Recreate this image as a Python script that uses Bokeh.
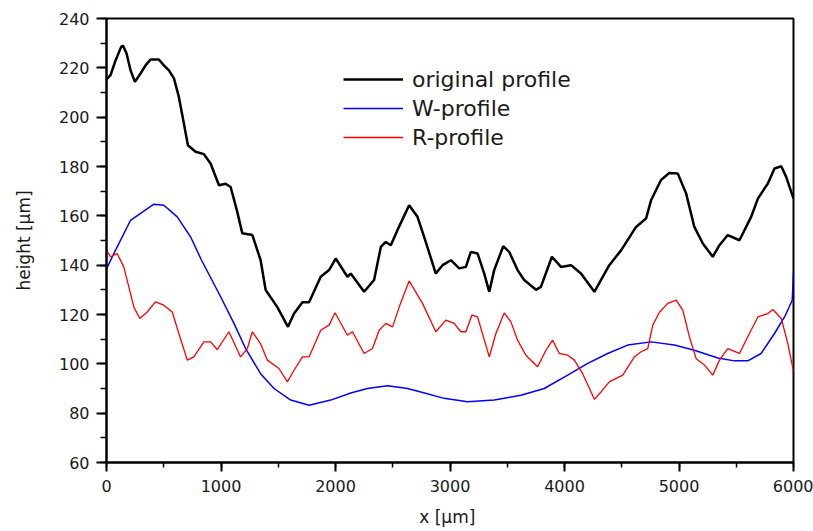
from bokeh.plotting import figure
from bokeh.models import Range1d, SingleIntervalTicker, Legend, LegendItem
from bokeh.embed import file_html
from bokeh.resources import INLINE

# ---------------- data ----------------
orig_x = [0, 35, 79, 128, 145, 175, 210, 248, 297, 341, 385, 457, 501, 545, 589, 632, 676, 711,
          778, 851, 909, 982, 1040, 1084, 1140, 1186, 1274, 1346, 1390, 1492, 1585, 1638, 1711,
          1769, 1871, 1944, 2002, 2104, 2133, 2250, 2337, 2396, 2439, 2483, 2541, 2643, 2716,
          2774, 2876, 2935, 3008, 3080, 3139, 3182, 3241, 3299, 3343, 3386, 3465, 3517, 3590,
          3648, 3751, 3794, 3890, 3969, 4057, 4144, 4261, 4391, 4494, 4625, 4712, 4756, 4843,
          4916, 4989, 5062, 5134, 5208, 5295, 5353, 5426, 5528, 5630, 5689, 5776, 5834, 5893,
          5936, 6000]
orig_y = [215.3, 217, 223, 228.5, 229, 225.8, 219, 214.3, 217.7, 221, 223.4, 223.4, 221, 219,
          215.7, 208.2, 197.4, 188.6, 186, 185, 181.2, 172.4, 173, 171.7, 162, 152.9, 152.2, 142,
          129.9, 123, 115, 120.4, 125, 125, 135.3, 138, 142.7, 135.3, 136.6, 129.2, 134, 147.4,
          149.4, 148.1, 154.2, 164.3, 159.6, 151.5, 136.6, 140, 142, 138.7, 139.3, 145.4, 144.7,
          136.6, 129.2, 138, 147.7, 145.4, 138, 134, 130, 131.2, 143.4, 139.3, 140, 136.6, 129.2,
          140, 146, 155.5, 158.9, 166.3, 174.5, 177.4, 177.2, 169.1, 155.5, 148.8, 143.4, 148.1,
          152.2, 150.1, 159.6, 167, 173.1, 179.2, 180.1, 175.8, 167]

w_x = [0, 64, 210, 414, 501, 618, 734, 830, 997, 1113, 1215, 1346, 1463, 1609, 1769, 1958, 2133,
       2279, 2454, 2629, 2745, 2949, 3153, 3386, 3620, 3823, 4028, 4203, 4377, 4552, 4756, 4960,
       5134, 5339, 5484, 5601, 5717, 5834, 5922, 5989, 6000]
w_y = [138.5, 144.7, 158.2, 164.7, 164.3, 159.6, 151.5, 142, 127.2, 116.4, 106.2, 96, 90, 85.3,
       83.2, 85.3, 88.2, 90, 91.1, 90, 88.6, 86, 84.6, 85.3, 87.3, 90, 95.4, 100.2, 104.2, 107.6,
       108.9, 107.6, 105.5, 102.4, 101.2, 101.2, 104.2, 112.3, 119, 125.8, 137]

r_x = [0, 35, 93, 151, 195, 239, 291, 356, 428, 501, 574, 632, 705, 763, 851, 909, 967, 1069,
       1171, 1230, 1274, 1346, 1405, 1506, 1580, 1638, 1711, 1769, 1871, 1944, 1996, 2104, 2148,
       2250, 2323, 2381, 2439, 2498, 2556, 2643, 2760, 2876, 2964, 3036, 3095, 3139, 3191, 3241,
       3343, 3401, 3474, 3532, 3590, 3663, 3765, 3838, 3896, 3954, 4028, 4086, 4159, 4261, 4319,
       4391, 4509, 4610, 4669, 4727, 4771, 4829, 4902, 4975, 5033, 5091, 5150, 5223, 5295, 5353,
       5426, 5528, 5615, 5689, 5776, 5820, 5893, 5951, 6000]
r_y = [146, 143.4, 144.7, 139.3, 131.2, 123, 118.4, 121, 125.1, 123.8, 121, 112.3, 101.5, 102.8,
       108.9, 108.9, 105.8, 113, 102.8, 106.2, 113, 108.1, 101.5, 98.1, 92.7, 97.4, 102.8, 102.8,
       113.6, 115.7, 120.7, 111.6, 113, 104.2, 106.2, 113.6, 116.4, 115, 123, 133.6, 124.5, 113,
       117.7, 116.4, 113, 113, 119.7, 119, 102.8, 112.3, 120.7, 117, 109.6, 103.5, 98.8, 105.5,
       109.6, 104.2, 103.5, 101.5, 96, 85.6, 88.6, 92.7, 95.4, 102.8, 104.9, 106.2, 115.7, 120.9,
       124.5, 125.8, 121.8, 110.9, 102.1, 99.5, 95.4, 101.5, 106.2, 104.2, 112.3, 119, 120.4, 122,
       118.4, 108.1, 97]

series_names = ["original profile", "W-profile", "R-profile"]
x_label = "x  [µm]"
y_label = "height [µm]"

FONT = "DejaVu Sans"

p = figure(width=813, height=531, output_backend="svg", toolbar_location=None,
           x_range=Range1d(0, 6000), y_range=Range1d(60, 240),
           min_border_left=106, min_border_right=20, min_border_top=18, min_border_bottom=69)
p.background_fill_color = "white"
p.border_fill_color = "white"
p.grid.visible = False
p.outline_line_color = "black"
p.outline_line_width = 2

r_orig = p.line(orig_x, orig_y, line_color="black", line_width=2.5)
r_w = p.line(w_x, w_y, line_color="#0000ff", line_width=1.5)
r_r = p.line(r_x, r_y, line_color="#ff0000", line_width=1.3)

p.xaxis.ticker = SingleIntervalTicker(interval=1000, num_minor_ticks=2)
p.yaxis.ticker = SingleIntervalTicker(interval=20, num_minor_ticks=2)

for ax in (p.xaxis, p.yaxis):
    ax.axis_line_width = 2
    ax.axis_line_color = "black"
    ax.major_tick_line_width = 2
    ax.minor_tick_line_width = 1.5
    ax.major_tick_line_color = "black"
    ax.minor_tick_line_color = "black"
    ax.major_tick_in = 0
    ax.minor_tick_in = 0
    ax.major_label_text_font = FONT
    ax.major_label_text_font_size = "16px"
    ax.major_label_text_color = "#1a1a1a"
    ax.axis_label_text_font = FONT
    ax.axis_label_text_font_style = "normal"
    ax.axis_label_text_font_size = "17px"
    ax.axis_label_text_color = "#1a1a1a"

p.yaxis.major_tick_out = 10
p.yaxis.minor_tick_out = 6
p.yaxis.major_label_standoff = 7
p.yaxis.axis_label = y_label
p.yaxis.axis_label_standoff = 22

p.xaxis.major_tick_out = 9
p.xaxis.minor_tick_out = 5
p.xaxis.major_label_standoff = 8
p.xaxis.axis_label = x_label
p.xaxis.axis_label_standoff = 12

legend = Legend(items=[LegendItem(label=series_names[0], renderers=[r_orig]),
                       LegendItem(label=series_names[1], renderers=[r_w]),
                       LegendItem(label=series_names[2], renderers=[r_r])],
                location=(237, 312))
legend.border_line_color = None
legend.background_fill_alpha = 0
legend.padding = 0
legend.margin = 0
legend.spacing = 3
legend.glyph_width = 60
legend.glyph_height = 26
legend.label_height = 26
legend.label_standoff = 9
legend.label_text_font = FONT
legend.label_text_font_size = "22px"
legend.label_text_color = "#1a1a1a"
p.add_layout(legend, "center")

open("out.html", "w").write(file_html(p, INLINE))
